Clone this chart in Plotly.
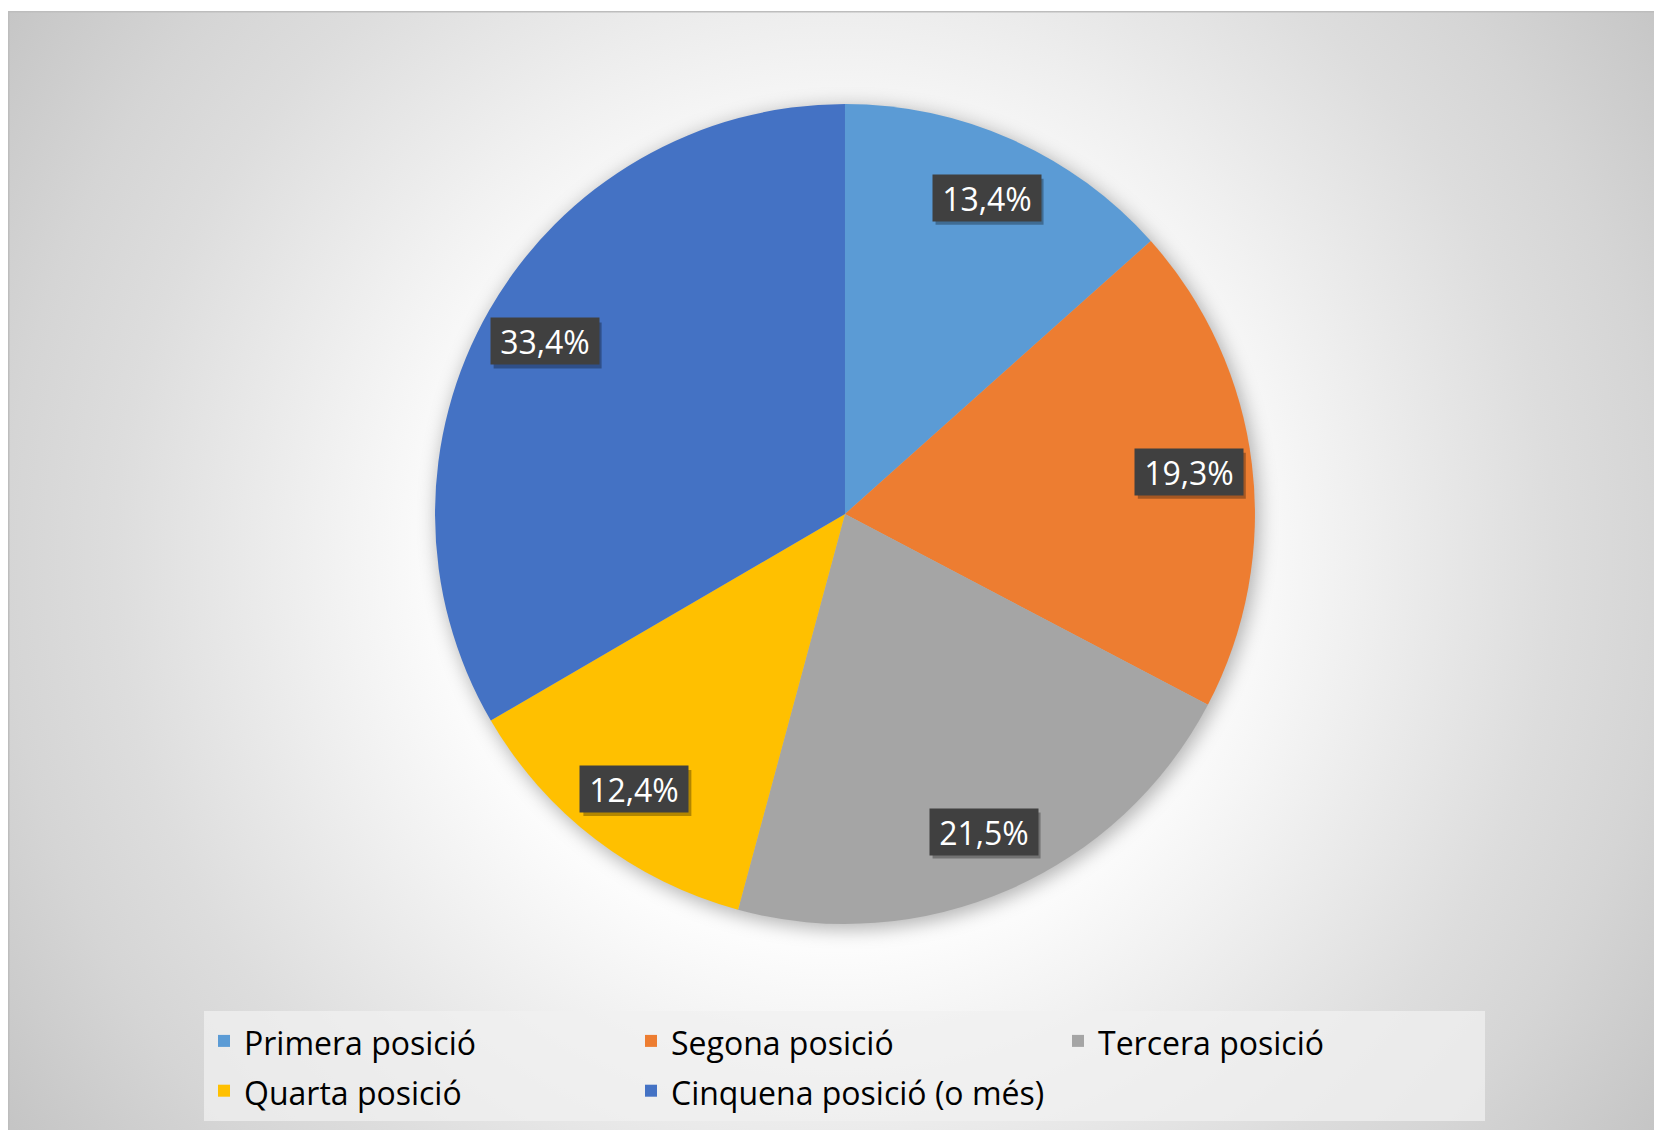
import base64
import math

import plotly.graph_objects as go

# ---------------------------------------------------------------------------
# Data
# ---------------------------------------------------------------------------
labels = [
    "Primera posició",
    "Segona posició",
    "Tercera posició",
    "Quarta posició",
    "Cinquena posició (o més)",
]
values = [13.4, 19.3, 21.5, 12.4, 33.4]
colors = ["#5B9BD5", "#ED7D31", "#A5A5A5", "#FFC000", "#4472C4"]

W, H = 1662, 1130
FONT = "'Open Sans', 'Noto Sans', sans-serif"

# pie placement (paper fractions)
dom_x = [0.2569, 0.7503]
dom_y = [0.1894, 0.9150]
cx = (dom_x[0] + dom_x[1]) / 2 * W
cy = (1 - (dom_y[0] + dom_y[1]) / 2) * H
R = min((dom_x[1] - dom_x[0]) * W, (dom_y[1] - dom_y[0]) * H) / 2

# data label box (text area + padding), in px
LBL_W, LBL_H, LBL_PAD = 100, 38, 4

# ---------------------------------------------------------------------------
# Background: framed radial gradient + soft pie shadow (as an SVG image)
# ---------------------------------------------------------------------------
bg_svg = f"""<svg xmlns='http://www.w3.org/2000/svg' width='{W}' height='{H}' viewBox='0 0 {W} {H}' preserveAspectRatio='none'>
<defs>
<radialGradient id='g' gradientUnits='userSpaceOnUse' cx='827' cy='552' r='1000'>
<stop offset='0' stop-color='#ffffff'/>
<stop offset='0.38' stop-color='#fdfdfd'/>
<stop offset='0.53' stop-color='#efefef'/>
<stop offset='0.72' stop-color='#dddddd'/>
<stop offset='0.83' stop-color='#d5d5d5'/>
<stop offset='1' stop-color='#c5c5c5'/>
</radialGradient>
<filter id='b' x='-20%' y='-20%' width='140%' height='140%'><feGaussianBlur stdDeviation='9'/></filter>
</defs>
<rect x='0.75' y='3.75' width='{W}' height='{H}' fill='url(#g)' stroke='#bdbdbd' stroke-width='1.5'/>
<circle cx='{cx + 3:.1f}' cy='{cy + 4:.1f}' r='{R + 2:.1f}' fill='rgba(0,0,0,0.28)' filter='url(#b)'/>
</svg>"""
bg_uri = "data:image/svg+xml;base64," + base64.b64encode(bg_svg.encode()).decode()

# legend rows get their height from the legend font, text itself is 32px
legend_labels = [f"<span style='font-size:32px'>{l}</span>" for l in labels]

# ---------------------------------------------------------------------------
# Figure
# ---------------------------------------------------------------------------
fig = go.Figure(
    go.Pie(
        labels=legend_labels,
        values=values,
        sort=False,
        direction="clockwise",
        rotation=0,
        marker=dict(colors=colors, line=dict(width=0)),
        textinfo="none",
        hoverinfo="label+percent",
        domain=dict(x=dom_x, y=dom_y),
    )
)

# data labels: dark boxes near the outer edge of each slice
total = sum(values)
cum = 0.0
bw, bh = LBL_W / 2 + LBL_PAD, LBL_H / 2 + LBL_PAD
for v in values:
    mid = (cum + v / 2) / total * 2 * math.pi
    cum += v
    ax = (cx + 0.845 * R * math.sin(mid)) / W
    ay = 1 - (cy - 0.845 * R * math.cos(mid)) / H
    # drop shadow behind the label box
    fig.add_shape(
        type="rect", xref="paper", yref="paper",
        xsizemode="pixel", ysizemode="pixel", xanchor=ax, yanchor=ay,
        x0=-bw + 3, x1=bw + 3, y0=-bh - 4, y1=bh - 4,
        fillcolor="rgba(0,0,0,0.30)", line_width=0, layer="above",
    )
    fig.add_annotation(
        x=ax, y=ay, xref="paper", yref="paper",
        xanchor="center", yanchor="middle",
        width=LBL_W, height=LBL_H, borderpad=LBL_PAD,
        text=f"{v:.1f}".replace(".", ",") + "%", showarrow=False,
        bgcolor="#404040",
        font=dict(family=FONT, size=32, color="#ffffff"),
    )

fig.update_layout(
    width=W,
    height=H,
    margin=dict(l=0, r=0, t=0, b=0),
    paper_bgcolor="#ffffff",
    plot_bgcolor="rgba(0,0,0,0)",
    font=dict(family=FONT, color="#000000", size=28),
    images=[dict(source=bg_uri, xref="paper", yref="paper", x=0, y=1,
                 sizex=1, sizey=1, sizing="stretch", layer="below",
                 xanchor="left", yanchor="top")],
    showlegend=True,
    legend=dict(
        orientation="h",
        x=196 / W, xanchor="left",
        y=1 - 1003 / H, yanchor="top",
        entrywidth=382,
        entrywidthmode="pixels",
        bgcolor="rgba(240,240,240,0.75)",
        font=dict(family=FONT, size=36, color="#000000"),
        traceorder="normal",
    ),
)

fig.write_html("out.html")
